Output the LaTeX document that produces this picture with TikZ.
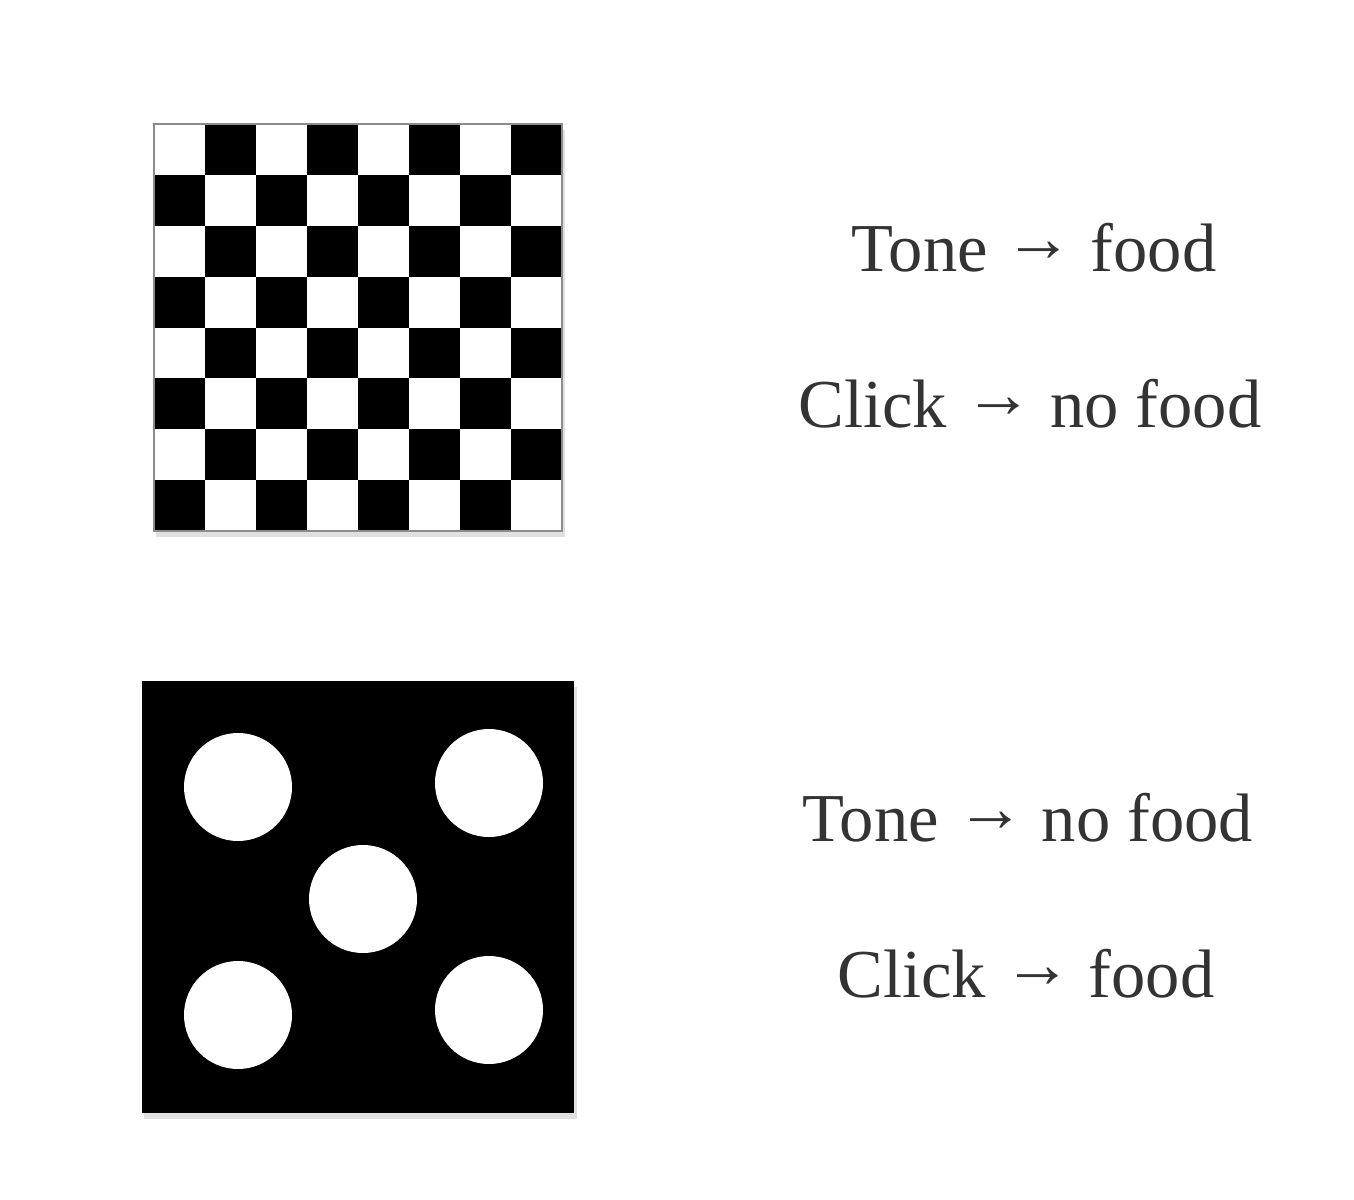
\documentclass[tikz,border=0pt]{standalone}
\usepackage{fontspec}
\setmainfont{Liberation Serif}
\newcommand{\leadsarrow}{\raisebox{2.6pt}{→}}
\begin{document}
\begin{tikzpicture}[x=0.01cm,y=-0.01cm,
    rule/.style={font=\fontsize{19.5}{23}\selectfont, text=black!80, anchor=base},
    shade box/.style={fill=black!12}]
            \useasboundingbox (0,0) rectangle (1354,1200);
            % checkerboard
            \fill[shade box] (156,130) rectangle (565,537);
            \fill[white] (154,124) rectangle (562,531);
            \foreach \r in {0,...,7}
                \foreach \k in {0,...,3}{
                    \pgfmathtruncatemacro\c{2*\k+1-mod(\r,2)}
                    \fill ({154+\c*51},{124+\r*50.875}) rectangle ++(51,50.875);
                }
            \draw[black!45,thin] (154,124) rectangle (562,531);
            % dice
            \fill[shade box] (144,687) rectangle (577,1119);
            \fill (142,681) rectangle (574,1113);
            \foreach \p in {(238,787),(489,783),(363,899),(238,1015),(489,1010)}
                \fill[white] \p circle (54);
            % rules
            \node[rule] (tonefood) at (1034,271) {Tone \leadsarrow{} food};
            \node[rule] (clicknofood) at (1030,427) {Click \leadsarrow{} no food};
            \node[rule] (tonenofood) at (1028,841) {Tone \leadsarrow{} no food};
            \node[rule] (clickfood) at (1026,997) {Click \leadsarrow{} food};
        \end{tikzpicture}
\end{document}
